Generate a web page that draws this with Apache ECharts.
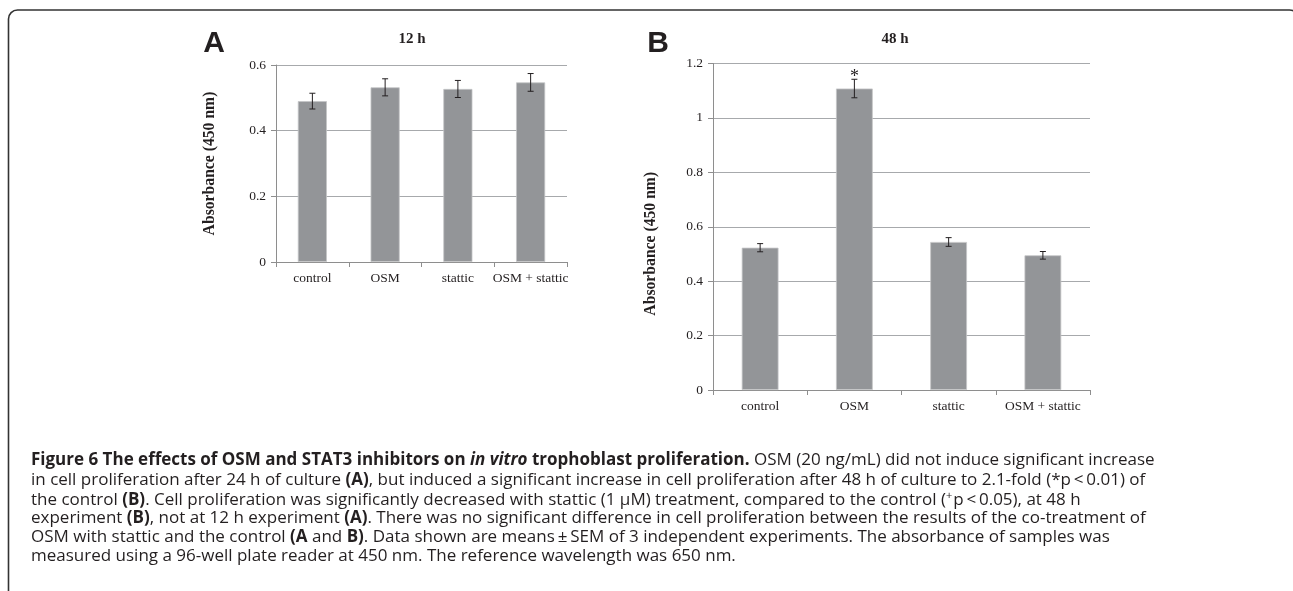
<!DOCTYPE html>
<html>
<head>
<meta charset="utf-8">
<script src="https://cdn.jsdelivr.net/npm/echarts@6/dist/echarts.min.js"></script>
<style>html,body{margin:0;padding:0;background:#fff;}#c{width:1293px;height:591px;}</style>
</head>
<body>
<div id="c"></div>
<script>
const categories = ['control', 'OSM', 'stattic', 'OSM + stattic'];
const valuesA = [0.490, 0.532, 0.527, 0.547];
const errorsA = [0.024, 0.026, 0.026, 0.027];
const valuesB = [0.523, 1.108, 0.544, 0.495];
const errorsB = [0.015, 0.034, 0.016, 0.014];
const marksB = ['', '*', '', ''];
const ticksA = [0, 0.2, 0.4, 0.6];
const ticksB = [0, 0.2, 0.4, 0.6, 0.8, 1, 1.2];
const captionLines = [
  [['b', 'Figure 6 The effects of OSM and STAT3 inhibitors on '], ['bi', 'in vitro'], ['b', ' trophoblast proliferation.'], ['n', ' OSM (20 ng/mL) did not induce significant increase']],
  [['n', 'in cell proliferation after 24 h of culture '], ['b', '(A)'], ['n', ', but induced a significant increase in cell proliferation after 48 h of culture to 2.1-fold (*p\u2009<\u20090.01) of']],
  [['n', 'the control '], ['b', '(B)'], ['n', '. Cell proliferation was significantly decreased with stattic (1 \u00b5M) treatment, compared to the control ('], ['sup', '+'], ['n', 'p\u2009<\u20090.05), at 48 h']],
  [['n', 'experiment '], ['b', '(B)'], ['n', ', not at 12 h experiment '], ['b', '(A)'], ['n', '. There was no significant difference in cell proliferation between the results of the co-treatment of']],
  [['n', 'OSM with stattic and the control '], ['b', '(A'], ['n', ' and '], ['b', 'B)'], ['n', '. Data shown are means\u2009\u00b1\u2009SEM of 3 independent experiments. The absorbance of samples was']],
  [['n', 'measured using a 96-well plate reader at 450 nm. The reference wavelength was 650 nm.']]
];

const serif = '"Liberation Serif", "Times New Roman", serif';
const sans = '"Open Sans", "Noto Sans", sans-serif';
const capFont = 17;

function esc(s) { return s.replace(/[{}|]/g, ''); }
const captionGraphics = captionLines.map((parts, i) => ({
  type: 'text',
  left: 31,
  top: 452 + i * 19.2,
  style: {
    text: parts.map(p => '{' + p[0] + '|' + esc(p[1]) + '}').join(''),
    rich: {
      n: { fontFamily: sans, fontSize: capFont, fill: '#231f20' },
      b: { fontFamily: sans, fontSize: capFont, fontWeight: 'bold', fill: '#231f20' },
      bi: { fontFamily: sans, fontSize: capFont, fontWeight: 'bold', fontStyle: 'italic', fill: '#231f20' },
      sup: { fontFamily: sans, fontSize: 11, fill: '#231f20', verticalAlign: 'top', padding: [0, 1, 8, 0] }
    }
  }
}));

function errItem(marks) {
  return function (params, api) {
    const x = api.value(0), v = api.value(1), e = api.value(2);
    const top = api.coord([x, v + e]);
    const bot = api.coord([x, v - e]);
    const hw = 3;
    const st = { stroke: '#231f20', lineWidth: 1 };
    const children = [
      { type: 'line', shape: { x1: top[0], y1: top[1], x2: bot[0], y2: bot[1] }, style: st },
      { type: 'line', shape: { x1: top[0] - hw, y1: top[1], x2: top[0] + hw, y2: top[1] }, style: st },
      { type: 'line', shape: { x1: bot[0] - hw, y1: bot[1], x2: bot[0] + hw, y2: bot[1] }, style: st }
    ];
    const m = marks ? marks[params.dataIndex] : '';
    if (m) {
      children.push({ type: 'text', style: { text: m, x: top[0], y: top[1] + 7, textAlign: 'center', textVerticalAlign: 'bottom', fontFamily: serif, fontSize: 18, fill: '#231f20' } });
    }
    return { type: 'group', children };
  };
}

const axisLabelStyle = { fontFamily: serif, fontSize: 13.5, color: '#231f20' };
const gridColor = '#a7a9ac';

function xAx(gi) {
  return {
    type: 'category', gridIndex: gi, data: categories,
    axisLine: { lineStyle: { color: '#8e8e8e', width: 1 } },
    axisTick: { show: true, length: 5, lineStyle: { color: '#8e8e8e' } },
    axisLabel: Object.assign({ margin: 9, interval: 0 }, axisLabelStyle)
  };
}
function yAx(gi, max, name, gap, pad) {
  return {
    type: 'value', gridIndex: gi, min: 0, max: max, interval: 0.2,
    name: name, nameLocation: 'middle', nameGap: gap,
    nameTextStyle: { fontFamily: serif, fontSize: 15.7, fontWeight: 'bold', color: '#231f20', padding: pad },
    axisLine: { show: true, lineStyle: { color: '#8e8e8e', width: 1 } },
    axisTick: { show: true, length: 5, lineStyle: { color: '#8e8e8e' } },
    splitLine: { lineStyle: { color: gridColor, width: 1 } },
    axisLabel: Object.assign({ margin: 10, formatter: v => String(Math.round(v * 10) / 10) }, axisLabelStyle)
  };
}

const chart = echarts.init(document.getElementById('c'), null, { renderer: 'canvas' });
chart.setOption({
  animation: false,
  backgroundColor: '#fff',
  title: [
    { text: '12 h', left: 407, top: 27, textAlign: 'center', textStyle: { fontFamily: serif, fontSize: 15, fontWeight: 'bold', color: '#231f20' } },
    { text: '48 h', left: 890, top: 27, textAlign: 'center', textStyle: { fontFamily: serif, fontSize: 15, fontWeight: 'bold', color: '#231f20' } },
    { text: 'A', left: 209, top: 24, textAlign: 'center', textStyle: { fontFamily: '"Liberation Sans", Arial, sans-serif', fontSize: 30, fontWeight: 'bold', color: '#231f20' } },
    { text: 'B', left: 653, top: 24, textAlign: 'center', textStyle: { fontFamily: '"Liberation Sans", Arial, sans-serif', fontSize: 30, fontWeight: 'bold', color: '#231f20' } }
  ],
  grid: [
    { left: 276, top: 65, width: 291, height: 197 },
    { left: 713, top: 63.5, width: 377, height: 326.5 }
  ],
  xAxis: [xAx(0), xAx(1)],
  yAxis: [yAx(0, 0.6, 'Absorbance (450 nm)', 58, [0, 0, 0, 0]), yAx(1, 1.2, 'Absorbance (450 nm)', 54, [0, 34, 0, 0])],
  series: [
    { type: 'bar', xAxisIndex: 0, yAxisIndex: 0, data: valuesA, barWidth: '40%', itemStyle: { color: '#939598', borderColor: '#c4c5c7', borderWidth: 0.8 } },
    { type: 'custom', xAxisIndex: 0, yAxisIndex: 0, renderItem: errItem(null), data: categories.map((c, i) => [i, valuesA[i], errorsA[i]]), z: 5 },
    { type: 'bar', xAxisIndex: 1, yAxisIndex: 1, data: valuesB, barWidth: '39%', itemStyle: { color: '#939598', borderColor: '#c4c5c7', borderWidth: 0.8 } },
    { type: 'custom', xAxisIndex: 1, yAxisIndex: 1, renderItem: errItem(marksB), data: categories.map((c, i) => [i, valuesB[i], errorsB[i]]), z: 5 }
  ],
  graphic: [
    { type: 'rect', shape: { x: 8.5, y: 10, width: 1290, height: 620, r: [9, 9, 0, 0] }, style: { fill: 'none', stroke: '#333', lineWidth: 1.6 }, silent: true }
  ].concat(captionGraphics)
});
</script>
</body>
</html>
